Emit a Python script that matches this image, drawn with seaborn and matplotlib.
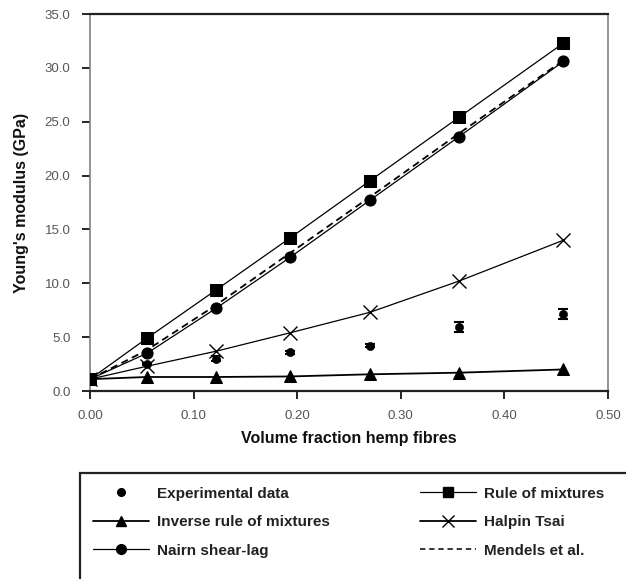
import matplotlib
matplotlib.use("Agg")
import matplotlib.pyplot as plt
from matplotlib.lines import Line2D
from matplotlib.patches import Rectangle
import seaborn as sns
import pandas as pd

# Fibre volume fractions
vf = [0.0, 0.055, 0.122, 0.193, 0.270, 0.356, 0.457]

# Measured moduli (GPa) with scatter
exp_mod = [1.1, 2.5, 3.0, 3.6, 4.2, 5.95, 7.15]
exp_err = [0.05, 0.1, 0.25, 0.15, 0.15, 0.45, 0.5]

# Model predictions (GPa)
rule_mix = [1.1, 4.9, 9.4, 14.2, 19.5, 25.4, 32.3]
inv_rule = [1.1, 1.3, 1.3, 1.35, 1.55, 1.7, 2.0]
nairn = [1.1, 3.5, 7.7, 12.4, 17.7, 23.6, 30.6]
mendels = [1.1, 3.8, 8.0, 12.8, 18.0, 23.9, 30.7]
halpin = [1.1, 2.3, 3.7, 5.4, 7.3, 10.2, 14.0]

x_ticks = [0.0, 0.1, 0.2, 0.3, 0.4, 0.5]
y_ticks = [0.0, 5.0, 10.0, 15.0, 20.0, 25.0, 30.0, 35.0]

sns.set_theme(style="white")
plt.rcParams["font.family"] = ["Liberation Sans", "DejaVu Sans"]

fig = plt.figure(figsize=(6.26, 5.79), dpi=100)
ax = fig.add_axes([90 / 626, 1 - 391 / 579, (608 - 90) / 626, (391 - 14) / 579])

df = pd.DataFrame({"vf": vf, "exp": exp_mod, "rom": rule_mix, "inv": inv_rule,
                   "nairn": nairn, "mendels": mendels, "halpin": halpin})

lc = "black"
sns.lineplot(data=df, x="vf", y="inv", ax=ax, color=lc, lw=1.3, marker="^",
             markersize=8.5, markeredgecolor=lc, zorder=3)
sns.lineplot(data=df, x="vf", y="halpin", ax=ax, color=lc, lw=0.9, marker="x",
             markersize=10.5, markeredgewidth=1.0, markeredgecolor=lc, zorder=3)
sns.lineplot(data=df, x="vf", y="rom", ax=ax, color=lc, lw=0.9, marker="s",
             markersize=8, markeredgecolor=lc, zorder=4)
sns.lineplot(data=df, x="vf", y="nairn", ax=ax, color=lc, lw=0.9, marker="o",
             markersize=8, markeredgecolor=lc, zorder=4)
sns.lineplot(data=df, x="vf", y="mendels", ax=ax, color=lc, lw=1.3,
             linestyle=(0, (4, 2.5)), zorder=5)
ax.errorbar(vf, exp_mod, yerr=exp_err, fmt="none", ecolor=lc, elinewidth=1,
            capsize=3.5, capthick=1.5, zorder=5)
sns.scatterplot(data=df, x="vf", y="exp", ax=ax, color=lc, s=34,
                edgecolor=lc, zorder=6)

ax.set_xlim(0, 0.5)
ax.set_ylim(0, 35)
ax.set_xticks(x_ticks)
ax.set_yticks(y_ticks)
ax.set_xticklabels([f"{t:.2f}" for t in x_ticks])
ax.set_yticklabels([f"{t:.1f}" for t in y_ticks])
ax.tick_params(axis="both", which="both", direction="out", length=6, width=1.2,
               colors="black", labelcolor="#555555", labelsize=9.5, pad=8,
               left=True, bottom=True)

for side in ("top", "bottom"):
    ax.spines[side].set_color("#222222")
    ax.spines[side].set_linewidth(1.6)
for side in ("left", "right"):
    ax.spines[side].set_color("#777777")
    ax.spines[side].set_linewidth(1.1)

ax.set_xlabel("Volume fraction hemp fibres", fontsize=11.5, fontweight="bold",
              labelpad=6, color="#111111")
ax.set_ylabel("Young's modulus (GPa)", fontsize=11.5, fontweight="bold",
              labelpad=11, color="#111111")

# Legend box running off the figure edges
fig.patches.append(Rectangle((80 / 626, -0.05), 0.9, 1 - 473 / 579 + 0.05,
                             transform=fig.transFigure, fill=False,
                             edgecolor="#222222", lw=1.6))

handles = [
    Line2D([], [], color=lc, marker="o", markersize=5.5, linestyle="none"),
    Line2D([], [], color=lc, marker="^", markersize=7, lw=1.3),
    Line2D([], [], color=lc, marker="o", markersize=7, lw=0.9),
    Line2D([], [], color=lc, marker="s", markersize=7, lw=0.9),
    Line2D([], [], color=lc, marker="x", markersize=9, markeredgewidth=1.0, lw=1.3),
    Line2D([], [], color=lc, lw=1.1, linestyle=(0, (3.5, 2.5))),
]
labels = ["Experimental data", "Inverse rule of mixtures", "Nairn shear-lag",
          "Rule of mixtures", "Halpin Tsai", "Mendels et al."]
leg = fig.legend(handles, labels, ncol=2, loc="upper left",
                 bbox_to_anchor=(79 / 626, 1 - 473 / 579), frameon=False,
                 handlelength=3.7, handletextpad=0.5, columnspacing=5.9,
                 labelspacing=0.95, prop={"size": 11, "weight": "bold"})
for t in leg.get_texts():
    t.set_color("#222222")

fig.savefig("out.png", dpi=100)
